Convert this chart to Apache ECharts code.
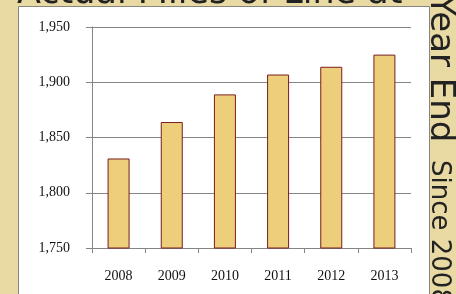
<!DOCTYPE html>
<html>
<head>
<meta charset="utf-8">
<script src="https://cdn.jsdelivr.net/npm/echarts@6/dist/echarts.min.js"></script>
<style>
  html, body { margin: 0; padding: 0; background: #e9d9a3; }
  #chart { width: 456px; height: 294px; }
</style>
</head>
<body>
<div id="chart"></div>
<script>
// data
const years = ['2008', '2009', '2010', '2011', '2012', '2013'];
const milesOfLine = [1831, 1864, 1889, 1907, 1914, 1925];
const yTicks = [1750, 1800, 1850, 1900, 1950];

const titleText = 'Actual Miles of Line at';
const sideBig = 'Year End';
const sideSmall = 'Since 2008';

const myChart = echarts.init(document.getElementById('chart'));

const option = {
    backgroundColor: '#e9d9a3',
    animation: false,
    graphic: {
        elements: [
            // title sits mostly above the page, only its foot shows
            {
                type: 'text', x: 17, y: -6, z: 1,
                style: {
                    text: titleText, fill: '#222',
                    font: '35px "DejaVu Sans"',
                    textAlign: 'left', textVerticalAlign: 'middle'
                }
            },
            {
                type: 'rect', z: 2,
                shape: { x: 18.5, y: 6.5, width: 411, height: 300 },
                style: { fill: '#fff', stroke: '#858585', lineWidth: 1 }
            },
            {
                type: 'text', x: 440, y: -5, z: 3, rotation: -Math.PI / 2,
                style: {
                    text: sideBig, fill: '#222',
                    font: '34px "DejaVu Sans"',
                    textAlign: 'left', textVerticalAlign: 'middle'
                }
            },
            {
                type: 'text', x: 439, y: 160, z: 3, rotation: -Math.PI / 2,
                style: {
                    text: sideSmall, fill: '#222',
                    font: '26px "DejaVu Sans"',
                    textAlign: 'left', textVerticalAlign: 'middle'
                }
            }
        ]
    },
    grid: {
        left: 92, right: 45, top: 27, bottom: 46,
        z: 10
    },
    xAxis: {
        type: 'category',
        data: years,
        z: 10,
        axisLine: { lineStyle: { color: '#858585', width: 1 } },
        axisTick: { show: true, length: 5, alignWithLabel: false, lineStyle: { color: '#858585' } },
        axisLabel: {
            color: '#111', fontFamily: '"Liberation Serif"', fontSize: 14, margin: 21
        }
    },
    yAxis: {
        type: 'value',
        min: yTicks[0],
        max: yTicks[yTicks.length - 1],
        interval: 50,
        z: 10,
        axisLine: { show: true, lineStyle: { color: '#858585', width: 1 } },
        axisTick: { show: true, length: 6, lineStyle: { color: '#858585' } },
        splitLine: { lineStyle: { color: '#858585', width: 1 } },
        axisLabel: {
            color: '#111', fontFamily: '"Liberation Serif"', fontSize: 14, margin: 22,
            formatter: v => v.toLocaleString('en-US')
        }
    },
    series: [
        {
            type: 'bar',
            data: milesOfLine,
            barWidth: 22,
            z: 11,
            itemStyle: { color: '#edcf7b', borderColor: '#7a1c1c', borderWidth: 1 }
        }
    ]
};

myChart.setOption(option);
</script>
</body>
</html>
